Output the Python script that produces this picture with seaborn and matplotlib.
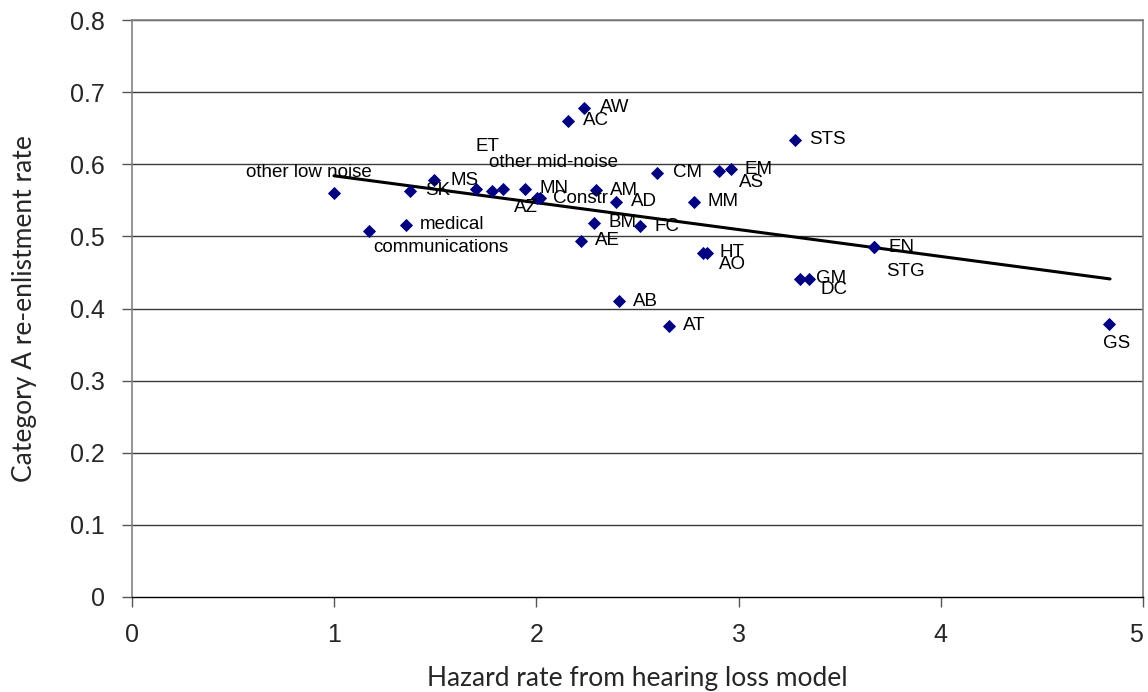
import matplotlib
matplotlib.use("Agg")
import matplotlib.pyplot as plt
import seaborn as sns
import pandas as pd

# ---- data ----
categories = ["other low noise", "communications", "medical", "SK", "MS",
              "ET", "", "other mid-noise", "MN", "AZ", "Constr",
              "AC", "AW", "AM", "AD", "BM", "FC", "AE", "AB", "AT",
              "CM", "MM", "AS", "EM", "STS", "AO", "HT", "DC", "GM",
              "EN", "STG", "GS"]
hazard = [0.999, 1.172, 1.355, 1.375, 1.494,
          1.701, 1.780, 1.835, 1.944, 2.003, 2.018,
          2.156, 2.235, 2.295, 2.394, 2.285, 2.512, 2.221, 2.408, 2.656,
          2.596, 2.779, 2.903, 2.962, 3.279, 2.824, 2.844, 3.304, 3.348,
          3.670, 3.672, 4.832]
reenlist = [0.560, 0.507, 0.516, 0.563, 0.578,
            0.566, 0.563, 0.566, 0.566, 0.553, 0.553,
            0.660, 0.678, 0.564, 0.548, 0.519, 0.514, 0.494, 0.410, 0.376,
            0.588, 0.548, 0.591, 0.593, 0.634, 0.477, 0.477, 0.441, 0.441,
            0.485, 0.485, 0.379]

# linear trend line end points
trend_x = [0.999, 4.837]
trend_y = [0.584, 0.441]

x_ticks = [0, 1, 2, 3, 4, 5]
y_ticks = [0, 0.1, 0.2, 0.3, 0.4, 0.5, 0.6, 0.7, 0.8]
x_label = "Hazard rate from hearing loss model"
y_label = "Category A re-enlistment rate"

# label offsets (pixels, right / down) - layout only
label_dx = [-88, 4, 14, 15, 16,
            0, 0, -14, 14, -23, 13,
            15, 16, 14, 15, 14, 15, 14, 14, 14,
            16, 14, 20, 14, 14, 16, 12, 20, 7,
            14, 12, -6]
label_dy = [-21, 16, 0, 0, 0,
            -42, 0, -26, 0, 9, 0,
            0, 0, 0, 0, 0, 0, 0, 0, 0,
            0, 0, 12, 0, 0, 12, 0, 11, 0,
            0, 24, 20]

df = pd.DataFrame({"cat": categories, "hazard": hazard, "rate": reenlist})
trend = pd.DataFrame({"x": trend_x, "y": trend_y})

sns.set_theme(style="white")
plt.rcParams["font.family"] = ["Liberation Sans", "DejaVu Sans"]

fig = plt.figure(figsize=(11.48, 6.92), dpi=100)
ax = fig.add_axes([132 / 1148, 1 - 597 / 692, (1143 - 132) / 1148, (597 - 20) / 692])

ax.set_xlim(0, 5)
ax.set_ylim(0, 0.8)
for yv in y_ticks[1:]:
    ax.axhline(yv, color="#3a3a3a", lw=1.0, zorder=0)

sns.lineplot(data=trend, x="x", y="y", color="black", lw=2.2, ax=ax,
             zorder=2, legend=False)
sns.scatterplot(data=df, x="hazard", y="rate", marker="D", s=45,
                color="#000080", edgecolor="#000080", linewidth=0, ax=ax,
                zorder=3, legend=False)

for c, xv, yv, dx, dy in zip(categories, hazard, reenlist, label_dx, label_dy):
    if c:
        ax.annotate(c, (xv, yv), xytext=(dx, -dy), textcoords="offset pixels",
                    ha="left", va="center", fontsize=13.5, color="black",
                    zorder=4)

ax.set_xticks(x_ticks)
ax.set_xticklabels([str(v) for v in x_ticks])
ax.set_yticks(y_ticks)
ax.set_yticklabels(["0" if v == 0 else f"{v:.1f}" for v in y_ticks])
ax.tick_params(axis="both", which="major", labelsize=18, length=7.5,
               width=1, direction="out", color="#555555")
ax.tick_params(axis="x", pad=11)
ax.tick_params(axis="y", pad=12)
ax.xaxis.set_ticks_position("bottom")
ax.yaxis.set_ticks_position("left")
ax.get_xticklabels()[-1].set_horizontalalignment("right")

for side in ["left", "right", "top"]:
    ax.spines[side].set_color("#808080")
    ax.spines[side].set_linewidth(1.2)
ax.spines["bottom"].set_color("black")
ax.spines["bottom"].set_linewidth(1.0)

ax.set_xlabel(x_label, fontsize=19, family=["Lato", "DejaVu Sans"], labelpad=14)
ax.set_ylabel(y_label, fontsize=19, family=["Lato", "DejaVu Sans"], labelpad=24)

fig.savefig("out.png", dpi=100)
